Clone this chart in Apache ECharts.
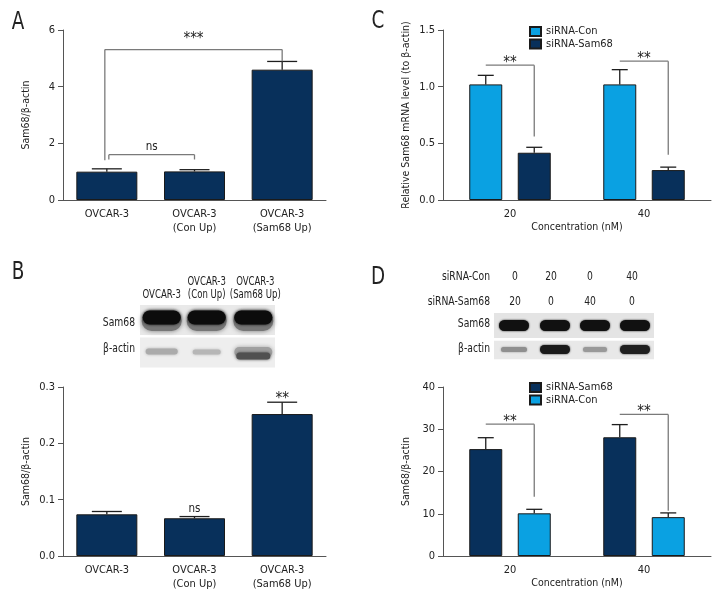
<!DOCTYPE html>
<html><head><meta charset="utf-8">
<script src="https://cdn.jsdelivr.net/npm/echarts@6/dist/echarts.min.js"></script>
<style>html,body{margin:0;padding:0;background:#fff}#c{width:720px;height:614px}</style>
</head><body><div id="c"></div>
<script>
// ---------- data ----------
const catsAB = ['OVCAR-3', 'OVCAR-3\n(Con Up)', 'OVCAR-3\n(Sam68 Up)'];
const aMean = [1.0, 1.01, 4.6];
const aErr = [1.1, 1.07, 4.89];
const bMean = [0.074, 0.067, 0.252];
const bErr = [0.079, 0.070, 0.273];
const concCats = ['20', '40'];
const cCon = [1.02, 1.02];
const cConErr = [1.10, 1.15];
const cSam = [0.417, 0.264];
const cSamErr = [0.465, 0.29];
const dSam = [25.3, 28.1];
const dSamErr = [28.0, 31.1];
const dCon = [10.1, 9.2];
const dConErr = [11.05, 10.2];
const ticksA = [0, 6, 2];
const ticksB = [0, 0.3, 0.1];
const ticksC = [0, 1.5, 0.5];
const ticksD = [0, 40, 10];
const blotBHeaders = ['OVCAR-3', 'OVCAR-3\n(Con Up)', 'OVCAR-3\n(Sam68 Up)'];
const blotDCon = ['0', '20', '0', '40'];
const blotDSam = ['20', '0', '40', '0'];
// significance annotations
const sigA = [
  {from: 0, to: 2, y: 5.31, legL: 1.4, legR: 4.9, text: '***'},
  {from: 0, to: 1, y: 1.6, legL: 1.43, legR: 1.43, text: 'ns'}
];
const sigB = [
  {at: 1, y: 0.083, text: 'ns'},
  {at: 2, y: 0.279, text: '**'}
];
const sigC = [
  {from: 0, to: 0, y: 1.19, legR: 0.56, text: '**'},
  {from: 1, to: 1, y: 1.225, legR: 0.40, text: '**'}
];
const sigD = [
  {from: 0, to: 0, y: 31.2, legR: 14.0, text: '**'},
  {from: 1, to: 1, y: 33.5, legR: 10.7, text: '**'}
];

// ---------- style ----------
const FONT = '"DejaVu Sans Condensed", "DejaVu Sans", sans-serif';
const NAVY = '#08305b';
const LIGHT = '#0aa1e2';
const AXIS = '#555';
const TXT = '#222';
const BRK = '#7a7a7a';
const LBL = 11, NM = 10.5;
const BW_AB = 61, BW_CD = 33, GAP_CD = 15.5;
const OFF = (BW_CD + GAP_CD) / 2;
// per-annotation placement tweaks (pixels)
const sigStyleA = [{dx0: -2, ty: 10}, {dx0: 2, ty: 8}];
const sigStyleCD = [{fs: -1, ts: 1, ty: 2.5}, {fs: -1, ts: 1, ty: 2}];

const chart = echarts.init(document.getElementById('c'), null, {renderer: 'canvas'});

function xAxisCfg(grid, data, name) {
  return {
    gridIndex: grid, type: 'category', data: data,
    axisLine: {lineStyle: {color: AXIS, width: 1}},
    axisTick: {alignWithLabel: true, length: 5, lineStyle: {color: AXIS}},
    axisLabel: {interval: 0, margin: 7, fontSize: LBL, lineHeight: 14, color: TXT, fontFamily: FONT},
    name: name || '', nameLocation: 'middle', nameGap: 17,
    nameTextStyle: {fontSize: NM, color: TXT, fontFamily: FONT}
  };
}
function yAxisCfg(grid, t, dec, name, gap) {
  return {
    gridIndex: grid, type: 'value', min: t[0], max: t[1], interval: t[2],
    splitLine: {show: false},
    axisLine: {show: true, lineStyle: {color: AXIS, width: 1}},
    axisTick: {show: true, length: 5, lineStyle: {color: AXIS}},
    axisLabel: {margin: 8, fontSize: LBL, color: TXT, fontFamily: FONT, formatter: v => v.toFixed(dec)},
    name: name, nameLocation: 'middle', nameGap: gap,
    nameTextStyle: {fontSize: NM, color: TXT, fontFamily: FONT}
  };
}
function errSeries(ax, mean, err, offset, capHalf) {
  return {
    type: 'custom', xAxisIndex: ax, yAxisIndex: ax, z: 5, silent: true,
    data: mean.map((m, i) => [i, m, err[i]]),
    renderItem: function (params, api) {
      const base = api.coord([api.value(0), api.value(1)]);
      const top = api.coord([api.value(0), api.value(2)]);
      const x = base[0] + offset;
      const st = {stroke: '#1e1e1e', lineWidth: 1.3};
      return {type: 'group', children: [
        {type: 'line', shape: {x1: x, y1: base[1], x2: x, y2: top[1]}, style: st},
        {type: 'line', shape: {x1: x - capHalf, y1: top[1], x2: x + capHalf, y2: top[1]}, style: st}
      ]};
    }
  };
}
function sigFont(t) { return t.indexOf('*') >= 0 ? '15px ' + FONT : '11.5px ' + FONT; }
function sigSeries(ax, arr, sty) {
  return {
    type: 'custom', xAxisIndex: ax, yAxisIndex: ax, z: 6, silent: true,
    data: arr.map((s, i) => [i]),
    renderItem: function (params, api) {
      const s = arr[params.dataIndex];
      const k = (sty && sty[params.dataIndex]) || {};
      const st = {stroke: BRK, lineWidth: 1.3};
      const children = [];
      if (s.at !== undefined) {
        const p = api.coord([s.at, s.y]);
        children.push({type: 'text', style: {text: s.text, x: p[0], y: p[1], align: 'center', verticalAlign: 'middle',
          font: sigFont(s.text), fill: TXT}});
        return {type: 'group', children};
      }
      const yl = api.coord([s.from, s.y])[1];
      const x0 = api.coord([s.from, 0])[0] + (k.fs || 0) * OFF + (k.dx0 || 0);
      const x1 = api.coord([s.to, 0])[0] + (k.ts || 0) * OFF;
      children.push({type: 'line', shape: {x1: x0, y1: yl, x2: x1, y2: yl}, style: st});
      if (s.legL !== undefined) {
        const yb = api.coord([s.from, s.legL])[1];
        children.push({type: 'line', shape: {x1: x0, y1: yl, x2: x0, y2: yb}, style: st});
      }
      if (s.legR !== undefined) {
        const yb = api.coord([s.to, s.legR])[1];
        children.push({type: 'line', shape: {x1: x1, y1: yl, x2: x1, y2: yb}, style: st});
      }
      children.push({type: 'text', style: {text: s.text, x: (x0 + x1) / 2, y: yl - (k.ty || 4),
        align: 'center', verticalAlign: 'middle', font: sigFont(s.text), fill: TXT}});
      return {type: 'group', children};
    }
  };
}
const barStyle = c => ({color: c, borderColor: '#1a1a1a', borderWidth: 1});

// ---------- blot drawing (decorative image content) ----------
function band(cx, cy, w, h, col, blur) {
  return {type: 'rect', shape: {x: cx - w / 2, y: cy - h / 2, width: w, height: h, r: h / 2},
    style: {fill: col, shadowBlur: blur, shadowColor: col}, silent: true};
}
function txt(x, y, t, align, size, sx) {
  return {type: 'text', x: x, y: y, scaleX: sx || 0.82, silent: true,
    style: {text: t, x: 0, y: 0, align: align || 'center', verticalAlign: 'middle',
    font: (size || 12.5) + 'px ' + FONT, fill: TXT}};
}
const laneB = [161.7, 206.7, 253.3];
const laneD = [514, 555, 595, 635];
const laneDTxt = [515, 551, 590, 632];
const graphics = [
  txt(18, 23, 'A', 'center', 24, 0.85), txt(18, 273, 'B', 'center', 24, 0.85),
  txt(378, 22, 'C', 'center', 24, 0.85), txt(378, 278, 'D', 'center', 24, 0.85),
  // blot B
  {type: 'rect', shape: {x: 140, y: 305, width: 135, height: 30}, style: {fill: '#e9e9e9'}, silent: true},
  {type: 'rect', shape: {x: 140, y: 337.5, width: 135, height: 30}, style: {fill: '#eeeeee'}, silent: true},
  txt(135, 323, 'Sam68', 'right'), txt(135, 349, 'β-actin', 'right'),
  // blot D
  {type: 'rect', shape: {x: 494, y: 313, width: 160, height: 25}, style: {fill: '#e4e4e4'}, silent: true},
  {type: 'rect', shape: {x: 494, y: 340.7, width: 160, height: 18.6}, style: {fill: '#e8e8e8'}, silent: true},
  txt(490, 277, 'siRNA-Con', 'right'), txt(490, 302, 'siRNA-Sam68', 'right'),
  txt(490, 324, 'Sam68', 'right'), txt(490, 348.5, 'β-actin', 'right')
];
blotBHeaders.forEach((h, i) => {
  const lines = h.split('\n');
  const x = laneB[i] + (i === 2 ? 2 : 0);
  if (lines.length === 1) graphics.push(txt(x, 295, h, 'center', 12.5, 0.76));
  else {
    graphics.push(txt(x, 281.5, lines[0], 'center', 12.5, 0.76));
    graphics.push(txt(x, 295, lines[1], 'center', 12.5, 0.76));
  }
});
laneB.forEach((x, i) => {
  graphics.push(band(x, 321, 40, 20, '#777', 5));
  graphics.push(band(x, 317.5, 38, 14, '#0c0c0c', 3));
});
graphics.push(band(laneB[0], 351.5, 32, 6, '#ababab', 3));
graphics.push(band(laneB[1], 352, 28, 5, '#b6b6b6', 3));
graphics.push(band(laneB[2], 352, 38, 10, '#a0a0a0', 4));
graphics.push(band(laneB[2], 356, 34, 7, '#505050', 3));
laneD.forEach((x, i) => {
  graphics.push(band(x, 325.5, 30, 11, '#111', 2));
  graphics.push(txt(laneDTxt[i], 277, blotDCon[i]));
  graphics.push(txt(laneDTxt[i], 302, blotDSam[i]));
});
graphics.push(band(laneD[0], 349.5, 26, 5, '#8f8f8f', 2));
graphics.push(band(laneD[1], 349.5, 30, 9, '#1a1a1a', 2));
graphics.push(band(laneD[2], 349.5, 24, 5, '#999', 2));
graphics.push(band(laneD[3], 349.5, 30, 9, '#1f1f1f', 2));

const legendCfg = (data, top) => ({data: data, left: 524, top: top, orient: 'vertical', itemWidth: 11, itemHeight: 9,
  itemGap: 1.5, icon: 'rect', textStyle: {fontSize: LBL, color: TXT, fontFamily: FONT}, selectedMode: false});

const option = {
  animation: false,
  backgroundColor: '#fff',
  textStyle: {fontFamily: FONT},
  grid: [
    {left: 63, top: 30, width: 263, height: 170},
    {left: 63, top: 387, width: 263, height: 169},
    {left: 443, top: 30, width: 268, height: 170},
    {left: 443, top: 387, width: 268, height: 169}
  ],
  xAxis: [
    xAxisCfg(0, catsAB), xAxisCfg(1, catsAB),
    xAxisCfg(2, concCats, 'Concentration (nM)'), xAxisCfg(3, concCats, 'Concentration (nM)')
  ],
  yAxis: [
    yAxisCfg(0, ticksA, 0, 'Sam68/β-actin', 31),
    yAxisCfg(1, ticksB, 1, 'Sam68/β-actin', 31),
    yAxisCfg(2, ticksC, 1, 'Relative Sam68 mRNA level (to β-actin)', 31),
    yAxisCfg(3, ticksD, 0, 'Sam68/β-actin', 31)
  ],
  legend: [
    legendCfg(['siRNA-Con', 'siRNA-Sam68'], 21),
    legendCfg(['siRNA-Sam68', 'siRNA-Con'], 377)
  ],
  series: [
    {type: 'bar', name: 'A', xAxisIndex: 0, yAxisIndex: 0, data: aMean, barWidth: BW_AB, itemStyle: barStyle(NAVY)},
    errSeries(0, aMean, aErr, 0, 15),
    sigSeries(0, sigA, sigStyleA),
    {type: 'bar', name: 'B', xAxisIndex: 1, yAxisIndex: 1, data: bMean, barWidth: BW_AB, itemStyle: barStyle(NAVY)},
    errSeries(1, bMean, bErr, 0, 15),
    sigSeries(1, sigB),
    {type: 'bar', name: 'siRNA-Con', xAxisIndex: 2, yAxisIndex: 2, data: cCon, barWidth: BW_CD, barGap: (GAP_CD / BW_CD * 100) + '%', itemStyle: barStyle(LIGHT)},
    {type: 'bar', name: 'siRNA-Sam68', xAxisIndex: 2, yAxisIndex: 2, data: cSam, barWidth: BW_CD, barGap: (GAP_CD / BW_CD * 100) + '%', itemStyle: barStyle(NAVY)},
    errSeries(2, cCon, cConErr, -OFF, 8),
    errSeries(2, cSam, cSamErr, OFF, 8),
    sigSeries(2, sigC, sigStyleCD),
    {type: 'bar', name: 'siRNA-Sam68', xAxisIndex: 3, yAxisIndex: 3, data: dSam, barWidth: BW_CD, barGap: (GAP_CD / BW_CD * 100) + '%', itemStyle: barStyle(NAVY)},
    {type: 'bar', name: 'siRNA-Con', xAxisIndex: 3, yAxisIndex: 3, data: dCon, barWidth: BW_CD, barGap: (GAP_CD / BW_CD * 100) + '%', itemStyle: barStyle(LIGHT)},
    errSeries(3, dSam, dSamErr, -OFF, 8),
    errSeries(3, dCon, dConErr, OFF, 8),
    sigSeries(3, sigD, sigStyleCD)
  ],
  graphic: graphics
};
chart.setOption(option);
</script>
</body></html>
